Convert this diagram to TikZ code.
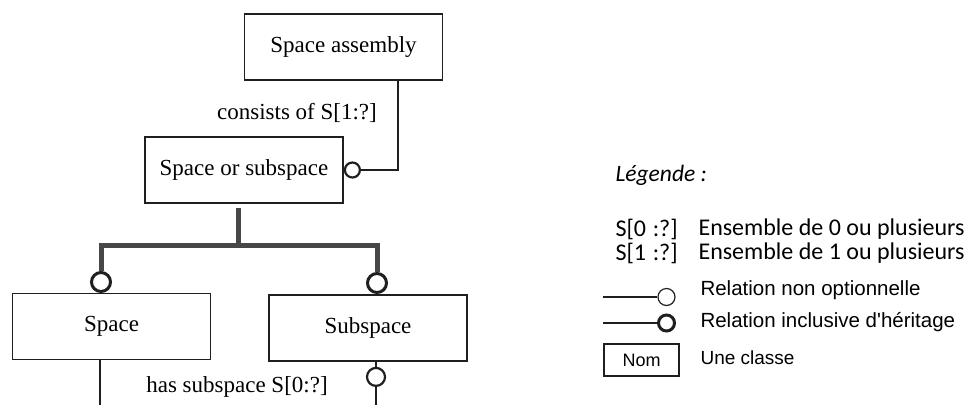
\documentclass[tikz,border=0pt]{standalone}
\usepackage{fontspec}
\setmainfont{Liberation Serif}
\newfontfamily\legendfont{Carlito}
\newfontfamily\arialfont{Liberation Sans}
\usetikzlibrary{calc}
\definecolor{ink}{gray}{.12}
\definecolor{thickink}{gray}{.28}
\newcommand{\widthclass}{198pt}
\newcommand{\heightclass}{66pt}
\newcommand{\sizering}{15pt}
\newcommand{\gapsym}{\hspace{0.28em}}
\tikzset{
    common/.style={draw=ink, rectangle, line width=1.6pt},
    class/.style={common, minimum width=\widthclass, minimum height=\heightclass, font=\fontsize{23}{27}\selectfont},
    link/.style={draw=ink, line width=1.5pt},
    inherit/.style={draw=thickink, line width=5pt},
    ring/.style={draw=ink, circle, fill=white, line width=2.2pt, minimum size=\sizering, inner sep=0pt},
    thickring/.style={ring, line width=3pt, minimum size=19pt},
    rolename/.style={font=\fontsize{23}{27}\selectfont},
    legend/.style={anchor=west, font={\legendfont\fontsize{24}{28}\selectfont}},
    legendrel/.style={anchor=west, font={\arialfont\fontsize{20.5}{24}\selectfont}}
}

\begin{document}
\begin{tikzpicture}[x=1pt, y=-1pt]
    \useasboundingbox (0,0) rectangle (965,405);

    % classes
    \node[class] (assembly) at (343.5,47) {Space assembly};
    \node[class] (spaceorsub) at (244,170) {Space or subspace};
    \node[class] (space) at (111.5,326.5) {Space};
    \node[class] (subspace) at (368,328) {Subspace};

    % consists of
    \node[ring, anchor=west] (ring-sos) at (spaceorsub.east) {};
    \coordinate (hook-assembly) at ([xshift=54.5pt]assembly.south);
    \draw[link] (ring-sos.east) -| (hook-assembly);
    \node[rolename] (consists) at (297,113) {consists of S[1:?]};

    % inheritance
    \coordinate (top-sos) at ([xshift=-6pt, yshift=-4pt]spaceorsub.south);
    \coordinate (fork) at (238,245);
    \node[thickring, anchor=south] (ring-space) at (101,293) {};
    \node[thickring, anchor=south] (ring-sub) at (377,294) {};
    \draw[inherit] (top-sos) -- (fork) -| (ring-space.north);
    \draw[inherit] (fork) -| (ring-sub.north);

    % has subspace
    \coordinate (foot-space) at ([xshift=-11.5pt]space.south);
    \coordinate (cut-left) at (100,405);
    \node[ring, anchor=north, minimum size=18pt] (ring-has) at ([xshift=8pt, yshift=-5pt]subspace.south) {};
    \coordinate (cut-right) at (376,405);
    \draw[link] (foot-space) -- (cut-left);
    \draw[link] ([xshift=8pt]subspace.south) -- (ring-has.north);
    \draw[link] (ring-has.south) -- (cut-right);
    \node[rolename] (hassub) at (237,387) {has subspace S[0:?]};

    % legend
    \node[legend, font={\legendfont\itshape\fontsize{23.5}{28}\selectfont}] (leg-title) at (612,175) {Légende :};
    \node[legend] (leg-s0) at (612,229) {S[0\gapsym:?]};
    \node[legend] (leg-s0-text) at (695,229) {Ensemble de 0 ou plusieurs};
    \node[legend] (leg-s1) at (612,253) {S[1\gapsym:?]};
    \node[legend] (leg-s1-text) at (695,253) {Ensemble de 1 ou plusieurs};

    \node[ring, line width=1.2pt, minimum size=17pt] (leg-ring) at (666.5,297) {};
    \coordinate (leg-thin-start) at (603,297);
    \draw[draw=ink, line width=1.3pt] (leg-thin-start) -- (leg-ring.west);
    \node[legendrel] (leg-rel) at (697,290) {Relation non optionnelle};

    \node[ring, line width=3pt, minimum size=16pt] (leg-thickring) at (666.5,323) {};
    \coordinate (leg-thick-start) at (603,323);
    \draw[draw=ink, line width=2.8pt] (leg-thick-start) -- (leg-thickring.west);
    \node[legendrel] (leg-inh) at (697,322) {Relation inclusive d'héritage};

    \node[common, line width=1.2pt, minimum width=75pt, minimum height=32pt, font={\arialfont\fontsize{18}{22}\selectfont}] (leg-class) at (641.5,360) {Nom};
    \node[legendrel, font={\arialfont\fontsize{19}{23}\selectfont}] (leg-cls) at (697,358) {Une classe};
\end{tikzpicture}
\end{document}
